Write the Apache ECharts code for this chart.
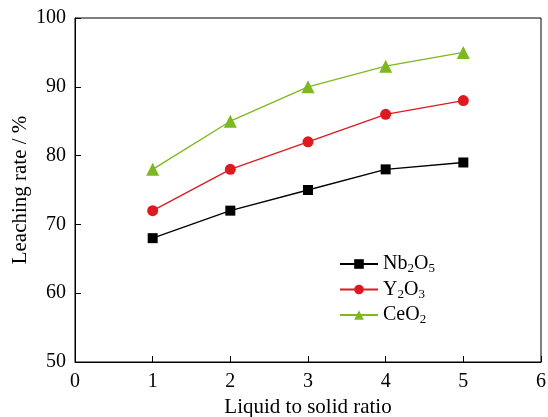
<!DOCTYPE html>
<html>
<head>
<meta charset="utf-8">
<script src="https://cdn.jsdelivr.net/npm/echarts@6/dist/echarts.min.js"></script>
<style>
  html, body { margin: 0; padding: 0; background: #fff; }
  #chart { width: 548px; height: 417px; }
</style>
</head>
<body>
<div id="chart"></div>
<script>
const ratio = [1, 2, 3, 4, 5];
const nb2o5 = [68, 72, 75, 78, 79];
const y2o3 = [72, 78, 82, 86, 88];
const ceo2 = [78, 85, 90, 93, 95];

const font = '"Liberation Serif", "Times New Roman", serif';

const pairs = (ys) => ratio.map((x, i) => [x, ys[i]]);

const mkSeries = (name, data, color, symbol, size) => ({
  name,
  type: 'line',
  data: pairs(data),
  symbol,
  symbolSize: size,
  itemStyle: { color },
  lineStyle: { color, width: 1.3 },
  emphasis: { disabled: true },
});

const chart = echarts.init(document.getElementById('chart'));
chart.setOption({
  animation: false,
  textStyle: { fontFamily: font },
  grid: {
    left: 75, right: 7, top: 18, bottom: 55,
    outerBoundsMode: 'none',
    containLabel: false,
    show: true, borderColor: '#000', borderWidth: 1,
  },
  legend: {
    orient: 'vertical',
    left: 334,
    top: 249,
    itemWidth: 38,
    itemHeight: 12,
    itemGap: 4,
    textStyle: {
      fontFamily: font,
      fontSize: 20,
      color: '#000',
      rich: {
        sub: { fontFamily: font, fontSize: 13, padding: [10, 0, 0, 0], color: '#000' },
      },
    },
    formatter: (n) => ({
      Nb2O5: 'Nb{sub|2}O{sub|5}',
      Y2O3: 'Y{sub|2}O{sub|3}',
      CeO2: 'CeO{sub|2}',
    })[n],
    data: ['Nb2O5', 'Y2O3', 'CeO2'],
  },
  xAxis: {
    type: 'value',
    min: 0, max: 6, interval: 1,
    name: 'Liquid to solid ratio',
    nameLocation: 'middle',
    nameGap: 35,
    nameTextStyle: { fontFamily: font, fontSize: 21, color: '#000' },
    axisLine: { lineStyle: { color: '#000', width: 1 } },
    axisTick: { inside: true, length: 6, lineStyle: { color: '#000' } },
    axisLabel: { fontFamily: font, fontSize: 20, color: '#000', margin: 10 },
    splitLine: { show: false },
  },
  yAxis: {
    type: 'value',
    min: 50, max: 100, interval: 10,
    name: 'Leaching rate / %',
    nameLocation: 'middle',
    nameGap: 44,
    nameMoveOverlap: false,
    nameTextStyle: { fontFamily: font, fontSize: 21, color: '#000' },
    axisLine: { lineStyle: { color: '#000', width: 1 } },
    axisTick: { inside: true, length: 6, lineStyle: { color: '#000' } },
    axisLabel: { fontFamily: font, fontSize: 20, color: '#000', margin: 9 },
    splitLine: { show: false },
  },
  series: [
    mkSeries('Nb2O5', nb2o5, '#000000', 'rect', 10),
    mkSeries('Y2O3', y2o3, '#DC1A1F', 'circle', 11),
    mkSeries('CeO2', ceo2, '#7DB81F', 'triangle', 13),
  ],
});
</script>
</body>
</html>
